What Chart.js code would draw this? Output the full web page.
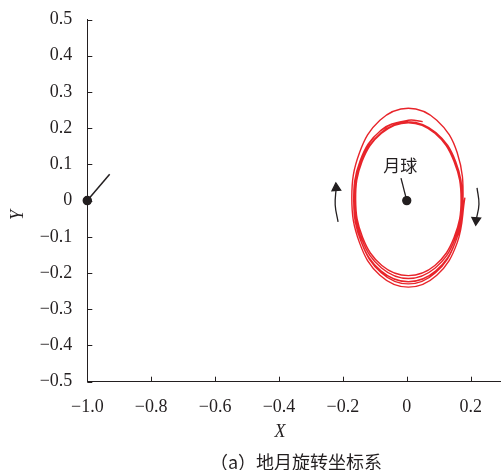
<!DOCTYPE html>
<html>
<head>
<meta charset="utf-8">
<script src="https://cdn.jsdelivr.net/npm/chart.js@4"></script>
<style>
  html, body { margin: 0; padding: 0; background: #fff; overflow: hidden; }
  #wrap { position: relative; width: 501px; height: 470px; overflow: hidden; }
  canvas { display: block; }
</style>
</head>
<body>
<div id="wrap"><canvas id="c" width="501" height="470"></canvas></div>
<script>
// axis ranges and tick values
const xRange = [-1.0, 0.295];
const yRange = [-0.5, 0.5];
const xTicks = [-1.0, -0.8, -0.6, -0.4, -0.2, 0, 0.2];
const yTicks = [-0.5, -0.4, -0.3, -0.2, -0.1, 0, 0.1, 0.2, 0.3, 0.4, 0.5];

// moon orbit trace (clockwise loops)
const orbitX = [
  0.182, 0.158, 0.094, 0.005, -0.084, -0.148, -0.172, -0.148, -0.084, 0.005, 0.094, 0.158,
  0.176, 0.153, 0.091, 0.005, -0.081, -0.143, -0.166, -0.146, -0.083, 0.005, 0.091, 0.153,
  0.173, 0.150, 0.089, 0.005, -0.079, -0.140, -0.163, -0.140, -0.079, 0.005, 0.088, 0.148,
  0.170, 0.148, 0.088, 0.005, -0.078, -0.138, -0.160, -0.140, -0.080, 0.005, 0.090, 0.150,
  0.174, 0.152, 0.090, 0.005, -0.080, -0.142, -0.165, -0.142, -0.080, 0.005, 0.050
];
const orbitY = [
  0.008, -0.116, -0.206, -0.239, -0.206, -0.116, 0.008, 0.132, 0.222, 0.255, 0.222, 0.132,
  -0.003, -0.113, -0.194, -0.224, -0.194, -0.113, -0.003, 0.110, 0.192, 0.218, 0.188, 0.108,
  0.000, -0.108, -0.186, -0.215, -0.186, -0.108, 0.000, 0.108, 0.186, 0.215, 0.186, 0.108,
  0.003, -0.102, -0.179, -0.207, -0.179, -0.102, 0.003, 0.108, 0.188, 0.216, 0.188, 0.110,
  0.000, -0.115, -0.199, -0.230, -0.199, -0.115, 0.000, 0.112, 0.195, 0.222, 0.218
];

// direction arrows
const leftArrowX = [-0.215, -0.224, -0.221];
const leftArrowY = [-0.059, -0.012, 0.035];
const rightArrowX = [0.220, 0.226, 0.217];
const rightArrowY = [0.035, -0.010, -0.054];

// earth and moon
const earthPos = [-1.0, 0];
const earthLineEnd = [-0.930, 0.073];
const moonPos = [0, 0];
const moonLeaderStart = [-0.018, 0.062];
const moonLabel = '月球';
const moonLabelPos = [-0.02, 0.097];

const xTitle = 'X';
const yTitle = 'Y';
const caption = '（a）地月旋转坐标系';

const ink = '#231f20';

function pts(xs, ys) {
  return xs.map((x, i) => ({ x: x, y: ys[i] }));
}

function fmt(v) {
  if (Math.abs(v) < 1e-9) return '0';
  return (v < 0 ? '\u2212' : '') + Math.abs(v).toFixed(1);
}

// ticks point inward, plus the free text
const extras = {
  id: 'extras',
  afterDraw(chart) {
    const ctx = chart.ctx;
    const xs = chart.scales.x, ys = chart.scales.y;
    const area = chart.chartArea;
    ctx.save();
    ctx.strokeStyle = ink;
    ctx.lineWidth = 1;
    ctx.beginPath();
    xTicks.forEach(v => {
      let px = Math.round(xs.getPixelForValue(v)) + 0.5;
      ctx.moveTo(px, area.bottom);
      ctx.lineTo(px, area.bottom - 5);
    });
    yTicks.forEach(v => {
      let py = Math.round(ys.getPixelForValue(v)) + 0.5;
      ctx.moveTo(area.left, py);
      ctx.lineTo(area.left + 5, py);
    });
    ctx.stroke();

    ctx.fillStyle = ink;
    ctx.textAlign = 'center';
    ctx.textBaseline = 'middle';
    ctx.font = '17px "Noto Sans CJK SC"';
    ctx.fillText(moonLabel, xs.getPixelForValue(moonLabelPos[0]), ys.getPixelForValue(moonLabelPos[1]));

    ctx.font = 'italic 18px "Liberation Serif"';
    ctx.fillText(xTitle, 280, 432);
    ctx.save();
    ctx.translate(18, 215);
    ctx.rotate(-Math.PI / 2);
    ctx.fillText(yTitle, 0, 0);
    ctx.restore();

    ctx.font = '18px "Noto Sans CJK SC"';
    ctx.fillText(caption, 296, 462);
    ctx.restore();
  }
};

new Chart(document.getElementById('c'), {
  type: 'scatter',
  data: {
    datasets: [
      {
        data: pts(orbitX, orbitY),
        showLine: true,
        borderColor: '#e8242a',
        borderWidth: 1.4,
        tension: 0.4,
        pointRadius: 0,
        fill: false
      },
      {
        data: pts(leftArrowX, leftArrowY),
        showLine: true,
        borderColor: ink,
        borderWidth: 1.3,
        tension: 0.4,
        pointRadius: [0, 0, 5],
        pointStyle: 'triangle',
        rotation: [0, 0, -4],
        pointBackgroundColor: ink,
        pointBorderColor: ink
      },
      {
        data: pts(rightArrowX, rightArrowY),
        showLine: true,
        borderColor: ink,
        borderWidth: 1.3,
        tension: 0.4,
        pointRadius: [0, 0, 5],
        pointStyle: 'triangle',
        rotation: [0, 0, 184],
        pointBackgroundColor: ink,
        pointBorderColor: ink
      },
      {
        data: [{ x: earthPos[0], y: earthPos[1] }, { x: earthLineEnd[0], y: earthLineEnd[1] }],
        showLine: true,
        borderColor: ink,
        borderWidth: 1.5,
        pointRadius: [4, 0],
        pointBackgroundColor: ink,
        pointBorderColor: ink
      },
      {
        data: [{ x: moonLeaderStart[0], y: moonLeaderStart[1] }, { x: moonPos[0], y: moonPos[1] }],
        showLine: true,
        borderColor: ink,
        borderWidth: 1.3,
        pointRadius: [0, 4],
        pointBackgroundColor: ink,
        pointBorderColor: ink
      }
    ]
  },
  options: {
    responsive: false,
    animation: false,
    clip: false,
    layout: { autoPadding: false, padding: { top: 19.5, right: 0, left: 0, bottom: 0 } },
    plugins: { legend: { display: false }, tooltip: { enabled: false } },
    scales: {
      x: {
        type: 'linear',
        min: xRange[0],
        max: xRange[1],
        afterBuildTicks: s => {
          s.ticks = xTicks.map(v => ({ value: v }));
          s.min = xRange[0];
          s.max = xRange[1];
        },
        afterFit: s => { s.height = 88.3; s.paddingLeft = 0; s.paddingRight = 0; },
        grid: { display: true, drawOnChartArea: false, drawTicks: false },
        border: { display: true, color: ink, width: 1 },
        ticks: {
          padding: 15,
          color: ink,
          font: { family: 'Liberation Serif', size: 18 },
          callback: v => fmt(v),
          maxRotation: 0,
          autoSkip: false
        }
      },
      y: {
        type: 'linear',
        min: yRange[0],
        max: yRange[1],
        afterBuildTicks: s => {
          s.ticks = yTicks.map(v => ({ value: v }));
          s.min = yRange[0];
          s.max = yRange[1];
        },
        afterFit: s => { s.width = 87.3; s.paddingTop = 0; s.paddingBottom = 0; },
        grid: { display: true, drawOnChartArea: false, drawTicks: false },
        border: { display: true, color: ink, width: 1 },
        ticks: {
          padding: 15,
          color: ink,
          font: { family: 'Liberation Serif', size: 18 },
          callback: v => fmt(v),
          autoSkip: false
        }
      }
    }
  },
  plugins: [extras]
});
</script>
</body>
</html>
